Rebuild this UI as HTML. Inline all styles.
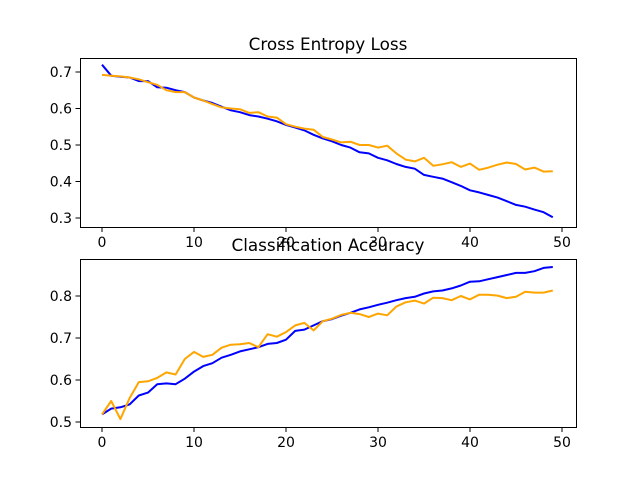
<!DOCTYPE html>
<html><head><meta charset="utf-8"><style>body{margin:0;background:#fff}svg{display:block}text{font-family:"DejaVu Sans","Liberation Sans",sans-serif;fill:#000}</style></head>
<body>
<svg id="s" width="640" height="480" xmlns="http://www.w3.org/2000/svg"></svg>
<script>
const s=document.getElementById('s');let h='';
const X=v=>102+9.2*v;
const lb=[.72,.69,.687,.685,.675,.675,.658,.657,.65,.645,.63,.622,.615,.605,.595,.59,.582,.578,.572,.565,.555,.548,.54,.528,.518,.51,.5,.493,.48,.477,.465,.458,.448,.44,.435,.418,.413,.408,.398,.388,.376,.37,.363,.356,.346,.336,.331,.323,.316,.302];
const lo=[.692,.69,.688,.685,.68,.672,.665,.65,.645,.645,.63,.622,.612,.603,.6,.598,.588,.59,.578,.575,.557,.55,.545,.542,.522,.515,.507,.509,.5,.5,.493,.498,.477,.46,.455,.465,.443,.447,.453,.44,.449,.432,.438,.446,.452,.448,.433,.438,.427,.428];
const ab=[.518,.532,.535,.542,.563,.57,.59,.592,.59,.603,.62,.633,.64,.653,.66,.668,.673,.678,.686,.688,.696,.717,.72,.73,.74,.745,.753,.76,.768,.773,.779,.784,.79,.795,.798,.806,.811,.813,.818,.825,.834,.835,.84,.845,.85,.855,.855,.859,.867,.869];
const ao=[.518,.55,.507,.557,.595,.597,.605,.618,.613,.65,.667,.655,.66,.677,.684,.685,.688,.678,.709,.703,.714,.73,.736,.718,.74,.746,.755,.76,.757,.75,.758,.754,.775,.785,.789,.782,.796,.795,.79,.8,.792,.803,.803,.801,.795,.798,.81,.808,.808,.813];
function axes(top,bot,title,Y,yt,series){
 h+=`<text x="328" y="${top-8}" font-size="16.8" text-anchor="middle">${title}</text>`;
 series.forEach(([d,c])=>{h+=`<polyline fill="none" stroke="${c}" stroke-width="2" stroke-linejoin="round" points="${d.map((v,i)=>X(i).toFixed(1)+','+Y(v).toFixed(1)).join(' ')}"/>`;});
 h+=`<rect x="80.5" y="${top+.5}" width="496" height="${bot-top}" fill="none" stroke="#000" stroke-width="1"/>`;
 for(let v=0;v<=50;v+=10){h+=`<line x1="${X(v)}" x2="${X(v)}" y1="${bot}" y2="${bot+5}" stroke="#000" stroke-width="1"/><text x="${X(v)}" y="${bot+20}" font-size="14" text-anchor="middle">${v}</text>`;}
 yt.forEach(v=>{const y=Y(v);h+=`<line x1="75.5" x2="80.5" y1="${y}" y2="${y}" stroke="#000" stroke-width="1"/><text x="72" y="${y+5}" font-size="14" text-anchor="end">${v.toFixed(1)}</text>`;});
}
axes(58,227,'Cross Entropy Loss',v=>72+(0.7-v)*365,[.3,.4,.5,.6,.7],[[lb,'blue'],[lo,'orange']]);
axes(259,427,'Classification Accuracy',v=>296+(0.8-v)*420,[.5,.6,.7,.8],[[ab,'blue'],[ao,'orange']]);
s.innerHTML=h;
</script>
</body></html>
